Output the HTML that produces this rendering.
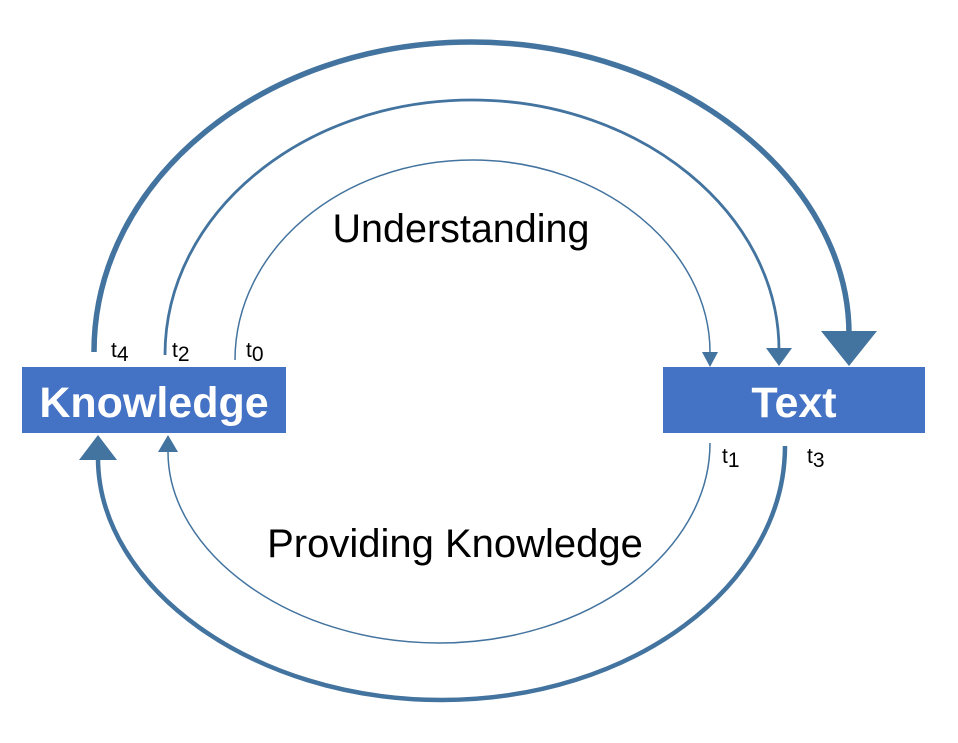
<!DOCTYPE html>
<html><head><style>
html,body{margin:0;padding:0;background:#fff;}
svg{display:block;font-family:"Liberation Sans",sans-serif;}
</style></head><body>
<svg width="958" height="743" viewBox="0 0 958 743" xmlns="http://www.w3.org/2000/svg">
<g fill="none" stroke="#43739f">
<path d="M235 360 C235 249.6 341.4 160 472.5 160 C603.6 160 710 249.6 710 352" stroke-width="1.5"/>
<path d="M165 355 C165 214 302.5 100 472 100 C641.5 100 779 214 779 350" stroke-width="2.8"/>
<path d="M94 352 C94 180 263 42 471.5 42 C680 42 849 180 849 334" stroke-width="5.5"/>
<path d="M710 443 C710 552 588.6 643 439 643 C289.4 643 168 552 168 452" stroke-width="1.5"/>
<path d="M785 446 C785 586 631.3 700 441.5 700 C251.7 700 98 586 98 458" stroke-width="4.5"/>
</g>
<g fill="#43739f">
<polygon points="702,352 718,352 710,367"/>
<polygon points="766,348 792,348 779,366"/>
<polygon points="821,331 877,331 849,366"/>
<polygon points="158,452 178,452 168,435"/>
<polygon points="79,460 117,460 98,435"/>
</g>
<rect x="22" y="367" width="264" height="66" fill="#4472c4"/>
<rect x="663" y="367" width="262" height="66" fill="#4472c4"/>
<text x="154" y="417" text-anchor="middle" font-size="43" font-weight="bold" fill="#fff">Knowledge</text>
<text x="794" y="417" text-anchor="middle" font-size="43" font-weight="bold" fill="#fff">Text</text>
<text x="461" y="242" text-anchor="middle" font-size="39.5" fill="#000">Understanding</text>
<text x="455" y="557" text-anchor="middle" font-size="40" fill="#000">Providing Knowledge</text>
<g font-size="21" fill="#000">
<text x="111" y="357">t<tspan dy="4">4</tspan></text>
<text x="172" y="357">t<tspan dy="4">2</tspan></text>
<text x="246" y="357">t<tspan dy="4">0</tspan></text>
<text x="722" y="463">t<tspan dy="4">1</tspan></text>
<text x="807" y="463">t<tspan dy="4">3</tspan></text>
</g>
</svg>
</body></html>
